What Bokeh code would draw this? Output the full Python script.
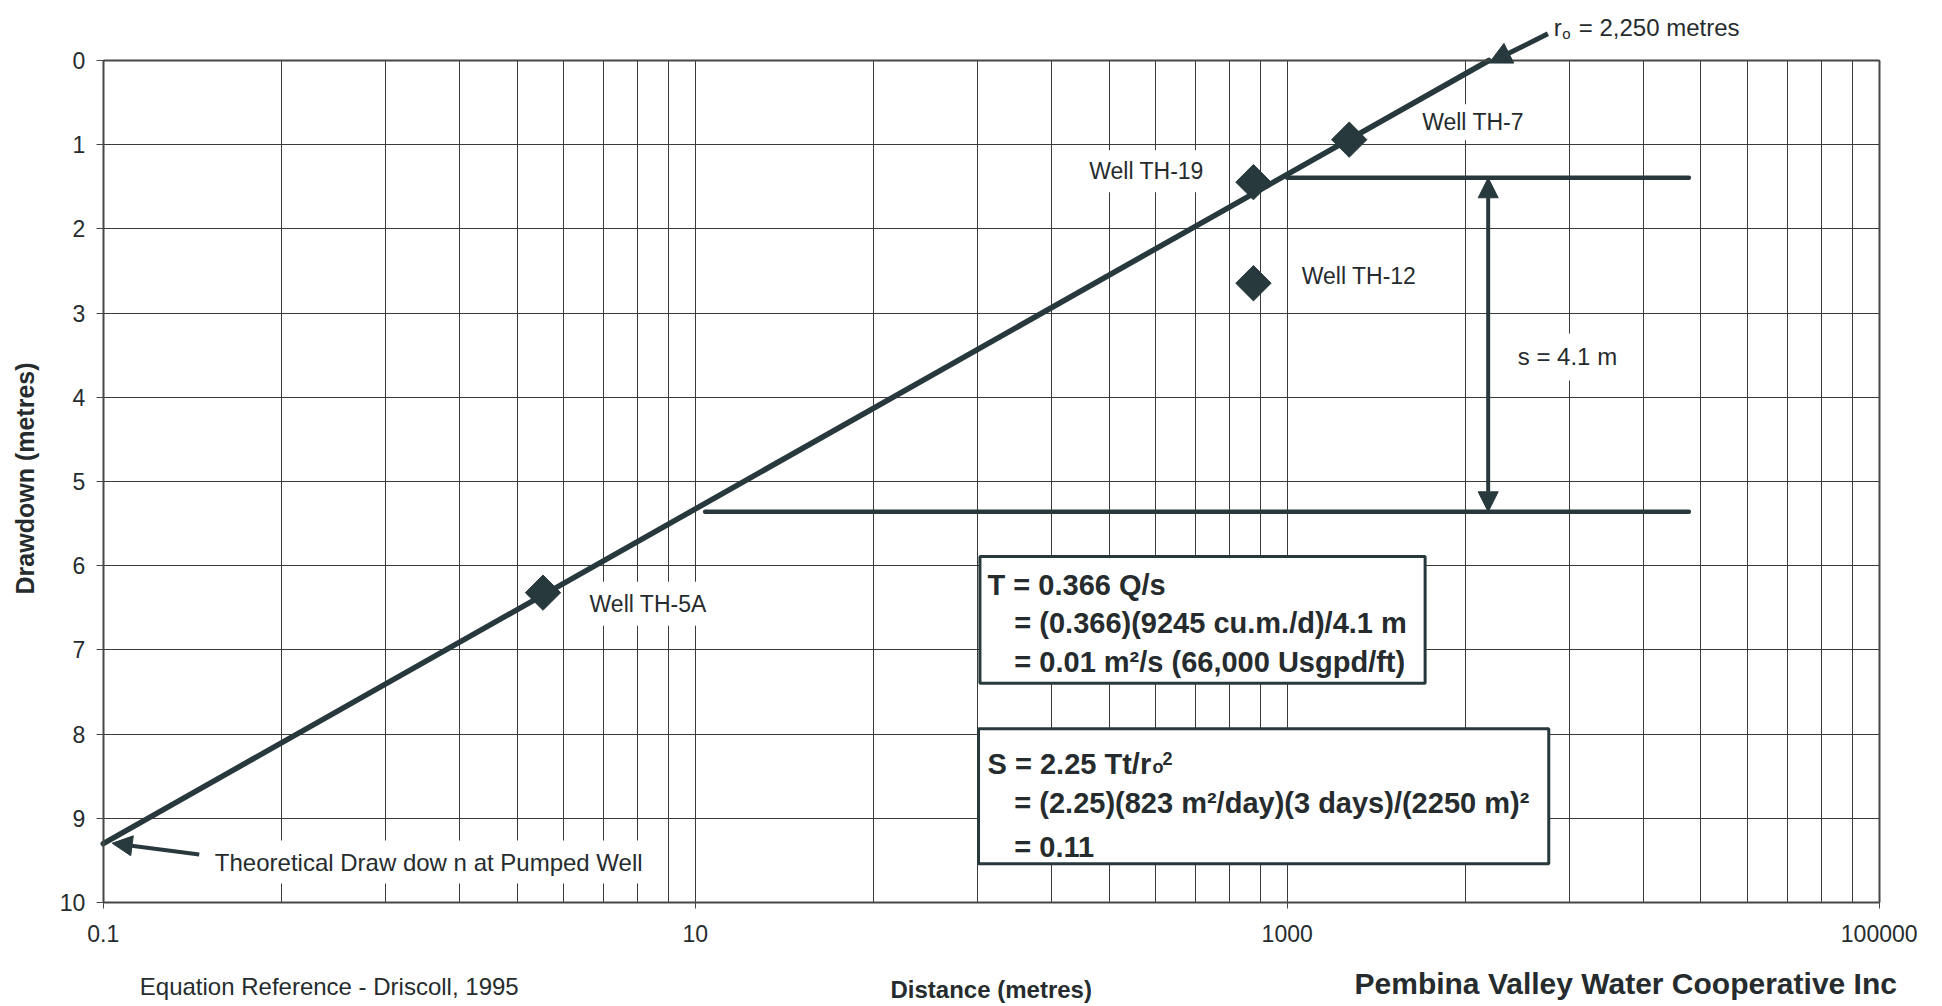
import math
from bokeh.plotting import figure
from bokeh.models import (Range1d, FixedTicker, Label, Arrow, NormalHead,
                          BoxAnnotation, LinearAxis, Grid)
from bokeh.embed import file_html
from bokeh.resources import INLINE

# ---------------- data ----------------
x_tick_values = [0.1, 10, 1000, 100000]
x_tick_labels = ["0.1", "10", "1000", "100000"]
y_tick_values = [0, 1, 2, 3, 4, 5, 6, 7, 8, 9, 10]

# fitted distance-drawdown straight line
line_distance = [0.1, 4800]
line_drawdown = [9.30, 0.0]

# observation wells
well_names = ["Well TH-5A", "Well TH-19", "Well TH-12", "Well TH-7"]
well_distance = [3.06, 769, 769, 1620]
well_drawdown = [6.32, 1.445, 2.645, 0.94]

# construction lines for delta-s over one log cycle
s_line_start = [1000, 10.8]
s_line_end = [22750, 22750]
s_line_drawdown = [1.393, 5.36]
s_arrow_distance = 4775

# radius of influence (intercept of the line with zero drawdown)
r0_distance = 4810

# ---------------- styling ----------------
FONT = "Liberation Sans"
INK = "#262c2e"
LINE = "#28393d"
GRID = "#3a3a3a"
FRAME = "#474747"

X_MIN, X_MAX = x_tick_values[0], x_tick_values[-1]
Y_MIN, Y_MAX = y_tick_values[0], y_tick_values[-1]

W, H = 1942, 1006
# the frame fills the whole canvas; axes are pinned at the data limits
p = figure(width=W, height=H, x_axis_type="log",
           x_range=Range1d(0.044967, 163640), y_range=Range1d(11.2352, -0.71259),
           output_backend="svg", toolbar_location=None,
           min_border_left=0, min_border_right=0,
           min_border_top=0, min_border_bottom=0)
p.outline_line_color = None
p.background_fill_color = "white"
p.border_fill_color = "white"

# ---- x axis (log) ----
minor = [a * n * n for a in x_tick_values[:-1] for n in range(2, 10)]
xt = FixedTicker(ticks=x_tick_values, minor_ticks=minor)
xax = p.xaxis[0]
xax.ticker = xt
xax.fixed_location = Y_MAX
xax.bounds = (X_MIN, X_MAX)
xax.major_label_overrides = {v: l for v, l in zip(x_tick_values, x_tick_labels)}
xax.major_label_text_font = FONT
xax.major_label_text_font_size = "23px"
xax.major_label_text_color = INK
xax.major_label_standoff = 17
xax.major_tick_out = 6
xax.major_tick_in = 0
xax.major_tick_line_color = FRAME
xax.minor_tick_line_color = None
xax.axis_line_color = FRAME
xax.axis_line_width = 2

# ---- y axis ----
yax = p.yaxis[0]
yax.ticker = FixedTicker(ticks=y_tick_values)
yax.fixed_location = X_MIN
yax.bounds = (Y_MIN, Y_MAX)
yax.major_label_text_font = FONT
yax.major_label_text_font_size = "23px"
yax.major_label_text_color = INK
yax.major_label_standoff = 11
yax.major_tick_out = 7
yax.major_tick_in = 0
yax.major_tick_line_color = FRAME
yax.minor_tick_line_color = None
yax.axis_line_color = FRAME
yax.axis_line_width = 2

# frame border on the top and right
top_ax = LinearAxis(ticker=FixedTicker(ticks=[]), bounds=(X_MIN, X_MAX), fixed_location=Y_MIN,
                    axis_line_color=FRAME, axis_line_width=2,
                    major_label_text_font_size="0px",
                    major_tick_line_color=None, minor_tick_line_color=None)
p.add_layout(top_ax, "above")
right_ax = LinearAxis(ticker=FixedTicker(ticks=[]), bounds=(Y_MIN, Y_MAX), fixed_location=X_MAX,
                      axis_line_color=FRAME, axis_line_width=2,
                      major_label_text_font_size="0px",
                      major_tick_line_color=None, minor_tick_line_color=None)
p.add_layout(right_ax, "right")

# ---- grids (limited to the plotting box) ----
xg = p.xgrid[0]
yg = p.ygrid[0]
if "cross_bounds" in Grid.properties():
    xg.grid_line_color = GRID
    xg.grid_line_width = 1
    xg.minor_grid_line_color = GRID
    xg.minor_grid_line_width = 1
    xg.cross_bounds = (Y_MIN, Y_MAX)
    yg.grid_line_color = GRID
    yg.grid_line_width = 1
    yg.cross_bounds = (X_MIN, X_MAX)
else:
    xg.visible = False
    yg.visible = False
    allx = x_tick_values + minor
    p.segment(x0=allx, y0=[Y_MIN] * len(allx), x1=allx, y1=[Y_MAX] * len(allx),
              line_color=GRID, line_width=1)
    p.segment(x0=[X_MIN] * len(y_tick_values), y0=y_tick_values,
              x1=[X_MAX] * len(y_tick_values), y1=y_tick_values,
              line_color=GRID, line_width=1)

# ---- construction lines ----
p.segment(x0=s_line_start, y0=s_line_drawdown, x1=s_line_end, y1=s_line_drawdown,
          line_color=LINE, line_width=4.5, line_cap="round")

# ---- main line and wells ----
p.line(line_distance, line_drawdown, line_color=LINE, line_width=5.5, line_cap="round")
p.scatter(well_distance, well_drawdown, marker="square", angle=math.pi / 4,
          size=25, fill_color=LINE, line_color=LINE)

# ---- arrows ----
p.add_layout(Arrow(start=NormalHead(size=20, fill_color=LINE, line_color=LINE),
                   end=NormalHead(size=20, fill_color=LINE, line_color=LINE),
                   x_start=s_arrow_distance, y_start=s_line_drawdown[0],
                   x_end=s_arrow_distance, y_end=s_line_drawdown[1],
                   line_color=LINE, line_width=4))
p.add_layout(Arrow(end=NormalHead(size=22, fill_color=LINE, line_color=LINE),
                   x_start=7600, y_start=-0.317, x_end=r0_distance, y_end=0.03,
                   line_color=LINE, line_width=5))
p.add_layout(Arrow(end=NormalHead(size=20, fill_color=LINE, line_color=LINE),
                   x_start=0.211, y_start=9.43, x_end=0.1072, y_end=9.296,
                   line_color=LINE, line_width=4))

# ---- formula boxes ----
p.add_layout(BoxAnnotation(left=91.6, right=2924, top=5.89, bottom=7.395,
                           fill_color="white", fill_alpha=1.0,
                           line_color=LINE, line_alpha=1.0, line_width=3))
p.add_layout(BoxAnnotation(left=90.6, right=7650, top=7.937, bottom=9.54,
                           fill_color="white", fill_alpha=1.0,
                           line_color=LINE, line_alpha=1.0, line_width=3))

HAS_PAD = "padding" in Label.properties()


def txt(x, y, text, size, bold=False, baseline="middle", bg=False, pad=8,
        x_offset=0, align="left", angle=0.0):
    kw = dict(x=x, y=y, text=text, text_font=FONT, text_font_size=size,
              text_color=INK, text_align=align, text_baseline=baseline,
              x_offset=x_offset, angle=angle)
    if bold:
        kw["text_font_style"] = "bold"
    if bg:
        kw["background_fill_color"] = "white"
        if HAS_PAD:
            kw["padding"] = pad
    p.add_layout(Label(**kw))


# axis titles
txt(0.0542, 4.964, "Drawdown (metres)", "25px", bold=True, align="center",
    angle=math.pi / 2)
txt(100, 11.033, "Distance (metres)", "24px", bold=True, align="center")

# well labels
well_label_x = [4.098, 201.4, 1052, 2748]
well_label_y = [6.453, 1.316, 2.565, 0.733]
well_label_pad = [9, 8, 8, 5]
for name, lx, ly, pd in zip(well_names, well_label_x, well_label_y, well_label_pad):
    txt(lx, ly, name, "23px", bg=True, pad=pd)

txt(5560, 3.52, "s = 4.1 m", "24px", bg=True, pad=10)
txt(0.2239, 9.52, "Theoretical Draw dow n at Pumped Well", "24px", bg=True, pad=8)

# r_o label
txt(7957, -0.3955, "r", "24px", baseline="alphabetic")
txt(7957, -0.317, "o", "15px", baseline="alphabetic", x_offset=8.5)
txt(7957, -0.3955, "= 2,250 metres", "24px", baseline="alphabetic", x_offset=25)

# T box
txt(97.2, 6.235, "T = 0.366 Q/s", "29px", bold=True, baseline="alphabetic")
txt(119.7, 6.686, "= (0.366)(9245 cu.m./d)/4.1 m", "29px", bold=True, baseline="alphabetic")
txt(119.7, 7.138, "= 0.01 m\u00b2/s (66,000 Usgpd/ft)", "29px", bold=True, baseline="alphabetic")

# S box
txt(97.2, 8.353, "S = 2.25 Tt/r", "29px", bold=True, baseline="alphabetic")
txt(97.2, 8.393, "o", "18px", bold=True, baseline="alphabetic", x_offset=165)
txt(97.2, 8.29, "2", "18px", bold=True, baseline="alphabetic", x_offset=175)
txt(119.7, 8.824, "= (2.25)(823 m\u00b2/day)(3 days)/(2250 m)\u00b2", "29px", bold=True,
    baseline="alphabetic")
txt(119.7, 9.343, "= 0.11", "29px", bold=True, baseline="alphabetic")

# footer texts
txt(0.1329, 11.0, "Equation Reference - Driscoll, 1995", "24px")
txt(1688, 10.962, "Pembina Valley Water Cooperative Inc", "30px", bold=True)

open("out.html", "w").write(file_html(p, INLINE))
